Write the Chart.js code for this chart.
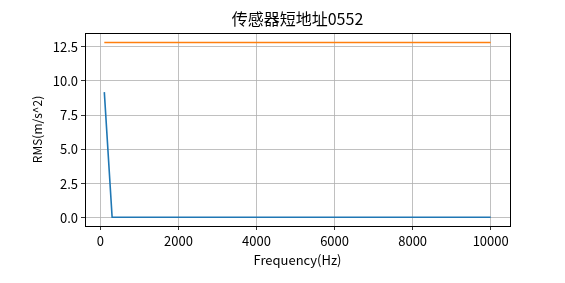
<!DOCTYPE html>
<html>
<head>
  <title>传感器短地址0552</title>
  <script src="https://cdn.jsdelivr.net/npm/chart.js"></script>
  <style>
    body { margin: 0; background: #fff; }
    #wrap { width: 565px; height: 283px; }
  </style>
</head>
<body>
  <div id="wrap"><canvas id="rmsChart" width="565" height="283"></canvas></div>

  <script>
    // data
    const freqBlue = [100, 300, 10000];
    const rmsBlue = [9.18, 0.05, 0.05];
    const freqOrange = [100, 10000];
    const rmsOrange = [12.8, 12.8];
    const xTicks = [0, 2000, 4000, 6000, 8000, 10000];
    const yTicks = [0, 2.5, 5, 7.5, 10, 12.5];

    const FONT = "'Noto Sans CJK SC', 'DejaVu Sans', sans-serif";

    // matplotlib-like frame + title
    const frame = {
      id: 'frame',
      afterDraw(chart) {
        const { ctx, chartArea: a } = chart;
        ctx.save();
        ctx.strokeStyle = '#000';
        ctx.lineWidth = 1;
        ctx.strokeRect(Math.round(a.left) + 0.5, Math.round(a.top) + 0.5,
          Math.round(a.right - a.left), Math.round(a.bottom - a.top));
        ctx.fillStyle = '#000';
        ctx.font = '16px ' + FONT;
        ctx.textAlign = 'center';
        ctx.textBaseline = 'middle';
        ctx.fillText('传感器短地址0552', (a.left + a.right) / 2, 19);
        ctx.restore();
      }
    };

    function keepTicks(list) {
      return scale => { scale.ticks = list.map(v => ({ value: v })); };
    }

    new Chart(document.getElementById('rmsChart'), {
      type: 'line',
      data: {
        datasets: [{
          data: freqBlue.map((f, i) => ({ x: f, y: rmsBlue[i] })),
          borderColor: '#1f77b4',
          borderWidth: 1.6,
          pointRadius: 0,
          tension: 0
        }, {
          data: freqOrange.map((f, i) => ({ x: f, y: rmsOrange[i] })),
          borderColor: '#ff7f0e',
          borderWidth: 1.6,
          pointRadius: 0,
          tension: 0
        }]
      },
      options: {
        responsive: false,
        animation: false,
        layout: { padding: { top: 33, right: 55, left: 26, bottom: 11 } },
        plugins: { legend: { display: false }, title: { display: false }, tooltip: { enabled: false } },
        scales: {
          x: {
            type: 'linear',
            min: -395,
            max: 10495,
            afterBuildTicks: keepTicks(xTicks),
            afterFit: s => { s.height = 46; },
            grid: { color: '#b0b0b0', lineWidth: 0.8, tickLength: 4, tickColor: '#000', drawTicks: true },
            border: { display: false },
            ticks: {
              color: '#000', padding: 3, maxRotation: 0,
              font: { family: FONT, size: 13 },
              callback: v => String(v)
            },
            title: {
              display: true, text: 'Frequency(Hz)', color: '#000',
              font: { family: FONT, size: 13 }, padding: { top: 2 }
            }
          },
          y: {
            min: -0.59,
            max: 13.49,
            afterBuildTicks: keepTicks(yTicks),
            afterFit: s => { s.width = 59; },
            grid: { color: '#b0b0b0', lineWidth: 0.8, tickLength: 4, tickColor: '#000' },
            border: { display: false },
            ticks: {
              color: '#000', padding: 3,
              font: { family: FONT, size: 13 },
              callback: v => v.toFixed(1)
            },
            title: {
              display: true, text: 'RMS(m/s^2)', color: '#000',
              font: { family: FONT, size: 12 }, padding: { bottom: 4 }
            }
          }
        }
      },
      plugins: [frame]
    });
  </script>
</body>
</html>
